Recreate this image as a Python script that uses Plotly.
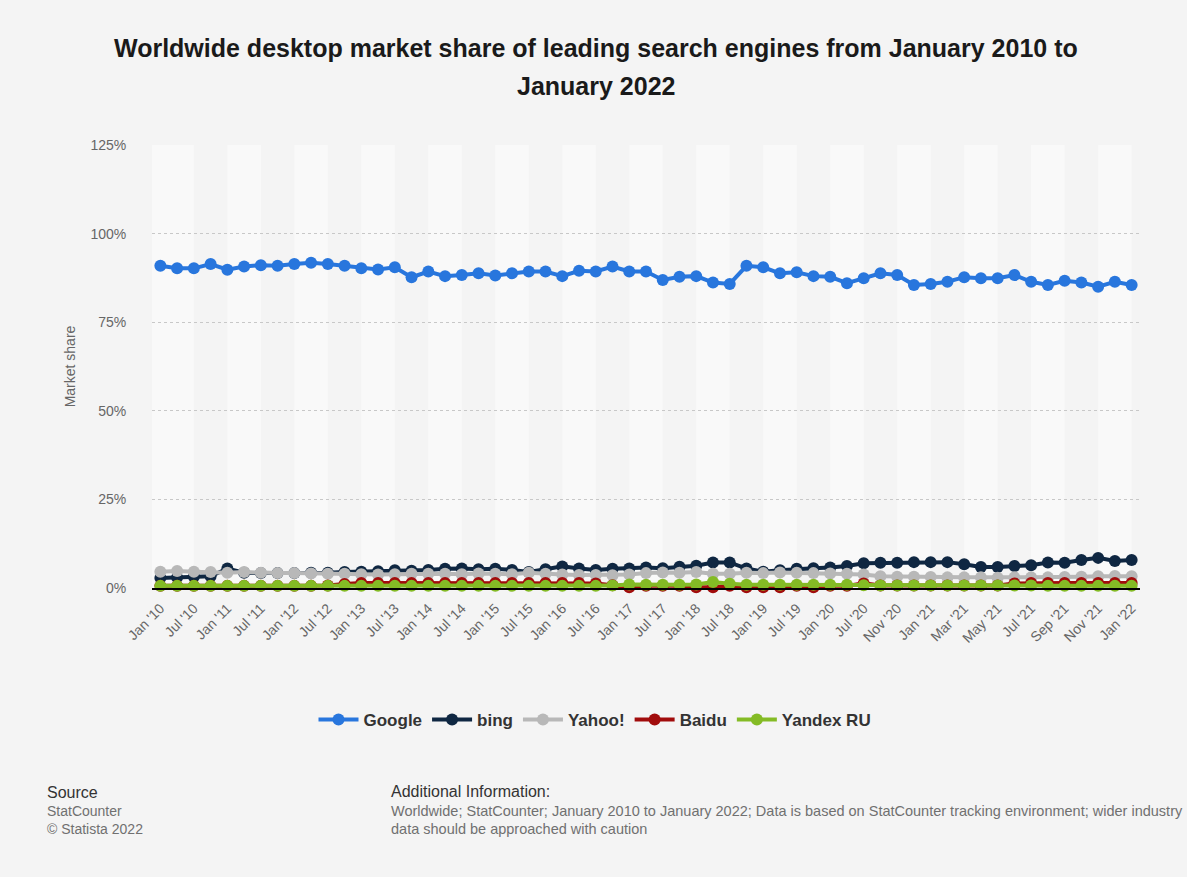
import plotly.graph_objects as go

categories = [
    "Jan '10", "Apr '10", "Jul '10", "Oct '10", "Jan '11", "Apr '11", "Jul '11", "Oct '11",
    "Jan '12", "Apr '12", "Jul '12", "Oct '12", "Jan '13", "Apr '13", "Jul '13", "Oct '13",
    "Jan '14", "Apr '14", "Jul '14", "Oct '14", "Jan '15", "Apr '15", "Jul '15", "Oct '15",
    "Jan '16", "Apr '16", "Jul '16", "Oct '16", "Jan '17", "Apr '17", "Jul '17", "Oct '17",
    "Jan '18", "Apr '18", "Jul '18", "Oct '18", "Jan '19", "Apr '19", "Jul '19", "Oct '19",
    "Jan '20", "Apr '20", "Jul '20", "Sep '20", "Nov '20", "Dec '20", "Jan '21", "Feb '21",
    "Mar '21", "Apr '21", "May '21", "Jun '21", "Jul '21", "Aug '21", "Sep '21", "Oct '21",
    "Nov '21", "Dec '21", "Jan '22",
]

y_ticks = [0, 25, 50, 75, 100, 125]
y_tick_labels = ["0%", "25%", "50%", "75%", "100%", "125%"]

google = [90.9, 90.2, 90.2, 91.4, 89.8, 90.7, 91.1, 90.9, 91.4, 91.8,
          91.4, 90.9, 90.2, 89.9, 90.5, 87.7, 89.3, 88.0, 88.3, 88.8,
          88.2, 88.8, 89.3, 89.3, 88.0, 89.5, 89.3, 90.7, 89.3, 89.3,
          86.9, 87.8, 88.0, 86.2, 85.8, 90.9, 90.5, 88.8, 89.1, 88.0,
          87.8, 86.0, 87.4, 88.8, 88.3, 85.5, 85.8, 86.4, 87.7, 87.4,
          87.4, 88.3, 86.4, 85.5, 86.7, 86.2, 85.0, 86.4, 85.5]

bing = [2.8, 3.0, 3.2, 3.3, 5.5, 4.3, 4.2, 4.2, 4.2, 4.3,
        4.3, 4.5, 4.6, 4.7, 5.0, 4.9, 5.1, 5.4, 5.5, 5.3,
        5.4, 5.1, 4.5, 5.3, 6.1, 5.5, 5.1, 5.4, 5.5, 5.8,
        5.6, 6.0, 6.3, 7.2, 7.2, 5.5, 4.6, 5.0, 5.4, 5.6,
        5.8, 6.2, 7.0, 7.1, 7.1, 7.3, 7.3, 7.3, 6.7, 5.9,
        5.9, 6.2, 6.4, 7.2, 7.1, 7.9, 8.5, 7.6, 7.9]

yahoo = [4.6, 4.8, 4.6, 4.5, 4.3, 4.5, 4.3, 4.2, 4.2, 4.1,
         4.0, 4.0, 3.9, 3.8, 3.9, 4.0, 4.0, 4.0, 3.9, 4.1,
         4.0, 3.9, 4.3, 4.0, 3.8, 3.7, 3.7, 3.6, 3.8, 4.2,
         4.4, 4.3, 4.5, 4.0, 4.0, 4.3, 4.2, 4.4, 4.3, 4.2,
         4.1, 4.0, 3.8, 3.3, 3.2, 3.2, 3.1, 3.0, 3.0, 3.0,
         2.9, 3.0, 3.0, 3.0, 3.1, 3.2, 3.3, 3.4, 3.3]

baidu = [0.6, 0.6, 0.6, 0.6, 0.6, 0.6, 0.6, 0.6, 0.6, 0.6,
         0.7, 1.1, 1.4, 1.4, 1.4, 1.4, 1.4, 1.4, 1.4, 1.4,
         1.4, 1.4, 1.4, 1.4, 1.4, 1.4, 1.3, 0.8, 0.2, 0.6,
         0.6, 0.6, 0.2, 0.2, 0.6, 0.2, 0.2, 0.2, 0.6, 0.2,
         0.6, 0.6, 1.3, 0.7, 0.7, 0.7, 0.7, 0.7, 0.7, 0.7,
         0.7, 1.3, 1.4, 1.4, 1.4, 1.4, 1.4, 1.4, 1.4]

yandex = [0.6, 0.6, 0.6, 0.6, 0.6, 0.6, 0.6, 0.6, 0.6, 0.6,
          0.6, 0.6, 0.6, 0.6, 0.6, 0.6, 0.6, 0.6, 0.6, 0.6,
          0.6, 0.6, 0.6, 0.6, 0.6, 0.6, 0.6, 0.7, 1.0, 0.9,
          0.9, 0.9, 1.0, 1.7, 1.2, 0.9, 0.9, 0.9, 0.9, 0.9,
          0.9, 0.9, 0.8, 0.7, 0.7, 0.7, 0.7, 0.7, 0.7, 0.7,
          0.7, 0.7, 0.7, 0.6, 0.6, 0.6, 0.6, 0.6, 0.6]

series = [
    ("Google", google, "#2876dd"),
    ("bing", bing, "#0f2742"),
    ("Yahoo!", yahoo, "#b8b8b8"),
    ("Baidu", baidu, "#a10c0c"),
    ("Yandex RU", yandex, "#84bb25"),
]

FONT = "Liberation Sans, Arial, sans-serif"
W, H = 1187, 877
ML, MR, MT, MB = 152, 47, 145, 289
PW, PH = W - ML - MR, H - MT - MB


def px_x(px):
    return (px - ML) / PW


def px_y(py):
    return (H - MB - py) / PH


fig = go.Figure()
for name, vals, col in series:
    fig.add_trace(go.Scatter(
        x=categories, y=vals, name=name, mode="lines+markers",
        line=dict(color=col, width=4),
        marker=dict(color=col, size=12),
        cliponaxis=False,
    ))

# alternating vertical bands between labelled ticks
tick_idx = list(range(0, len(categories), 2))
shapes = []
bounds = [-0.5] + tick_idx[1:] + [len(categories) - 0.5]
for k in range(len(bounds) - 1):
    if k % 2 == 0:
        shapes.append(dict(type="rect", xref="x", yref="paper",
                           x0=bounds[k], x1=bounds[k + 1], y0=0, y1=1,
                           fillcolor="#f9f9f9", line=dict(width=0), layer="below"))


def note(text, px, py, size, color, anchor="left"):
    return dict(text=text, x=px_x(px), y=px_y(py), xref="paper", yref="paper",
                showarrow=False, font=dict(family=FONT, size=size, color=color),
                xanchor=anchor, yanchor="middle")


annotations = [
    note("<b>Worldwide desktop market share of leading search engines from January 2010 to</b>",
         596, 48, 25, "#1a1a1a", "center"),
    note("<b>January 2022</b>", 596, 86, 25, "#1a1a1a", "center"),
    note("Source", 45, 792, 16, "#333333"),
    note("StatCounter", 45, 811, 14, "#707070"),
    note("© Statista 2022", 45, 829, 14, "#707070"),
    note("Additional Information:", 389, 791, 16, "#333333"),
    note("Worldwide; StatCounter; January 2010 to January 2022; Data is based on StatCounter "
         "tracking environment; wider industry", 389, 811, 14.5, "#707070"),
    note("data should be approached with caution", 389, 829, 14.5, "#707070"),
]

fig.update_layout(
    width=W, height=H,
    margin=dict(l=ML, r=MR, t=MT, b=MB, pad=0),
    paper_bgcolor="#f4f4f4",
    plot_bgcolor="#f4f4f4",
    font=dict(family=FONT, color="#666666"),
    shapes=shapes,
    annotations=annotations,
    showlegend=True,
    legend=dict(orientation="h", x=px_x(595), xanchor="center", y=px_y(720), yanchor="middle",
                font=dict(family=FONT, size=17, color="#333333", weight="bold"),
                bgcolor="rgba(0,0,0,0)", itemwidth=40),
    xaxis=dict(
        type="category", categoryorder="array", categoryarray=categories,
        range=[-0.5, len(categories) - 0.5],
        tickmode="array", tickvals=categories[::2], ticktext=categories[::2],
        tickangle=-45, tickfont=dict(family=FONT, size=14, color="#666666"),
        showgrid=False, zeroline=False,
        showline=True, linecolor="#000000", linewidth=1.5, layer="above traces",
        ticks="outside", ticklen=5, tickcolor="rgba(0,0,0,0)",
    ),
    yaxis=dict(
        range=[0, 125], tickmode="array", tickvals=y_ticks, ticktext=y_tick_labels,
        tickfont=dict(family=FONT, size=14, color="#666666"),
        showgrid=True, gridcolor="#c8c8c8", griddash="dot", gridwidth=1,
        zeroline=False, showline=False,
        ticks="outside", ticklen=22, tickcolor="rgba(0,0,0,0)",
        title=dict(text="Market share", font=dict(family=FONT, size=14, color="#666666"),
                   standoff=11),
    ),
)

fig.write_html("out.html")
